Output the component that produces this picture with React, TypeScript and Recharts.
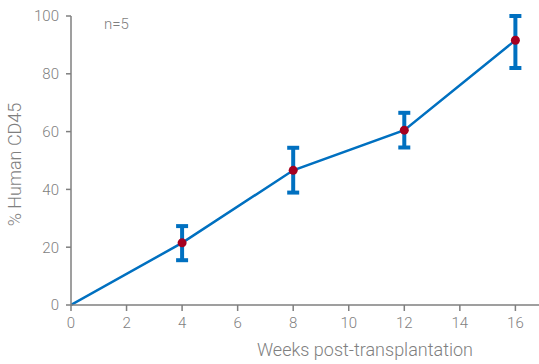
import React from "react";
import { LineChart, Line, XAxis, YAxis, ErrorBar } from "recharts";

const weeks = [0, 4, 8, 12, 16];
const cd45 = [0, 21.5, 46.6, 60.5, 91.6];
const errLow = [null, 6, 7.7, 6, 9.6];
const errHigh = [null, 5.8, 7.8, 6, 8.4];
const xTicks = [0, 2, 4, 6, 8, 10, 12, 14, 16];
const yTicks = [0, 20, 40, 60, 80, 100];

const data = weeks.map((w, i) => ({
  week: w,
  value: cd45[i],
  err: errLow[i] == null ? undefined : [errLow[i], errHigh[i]],
}));

const grey = "#7f7f7f";
const font = "Roboto, 'Liberation Sans', sans-serif";

const Dot = (props: any) => {
  const { cx, cy, index } = props;
  if (index === 0) return null;
  return <circle key={index} cx={cx} cy={cy} r={4.5} fill="#a50021" />;
};

const App: React.FC = () => {
  return (
    <div style={{ position: "absolute", left: 0, top: 0, fontFamily: font }}>
      <LineChart width={539} height={364} data={data} margin={{ top: 16, right: 0, left: 0, bottom: 0 }}>
        <XAxis
          dataKey="week"
          type="number"
          domain={[0, 16.85]}
          allowDataOverflow
          ticks={xTicks}
          height={59}
          stroke={grey}
          strokeWidth={1.5}
          tickSize={6}
          tick={{ fill: grey, fontSize: 15, fontWeight: 300, fontFamily: font, dy: 4 }}
          label={{ value: "Weeks post-transplantation", position: "insideBottom", dx: 60, dy: -3, fill: grey, fontSize: 18, fontWeight: 300, fontFamily: font }}
        />
        <YAxis
          type="number"
          domain={[0, 100]}
          ticks={yTicks}
          width={71}
          stroke={grey}
          strokeWidth={1.5}
          tickSize={5}
          tick={{ fill: grey, fontSize: 15, fontWeight: 300, fontFamily: font, dx: -5 }}
          label={{ value: "% Human CD45", angle: -90, position: "insideLeft", dx: 10, dy: 4, fill: grey, fontSize: 18, fontWeight: 300, fontFamily: font, style: { textAnchor: "middle" } }}
        />
        <text x={104} y={29} fill={grey} fontSize={15} fontWeight={300} fontFamily={font}>n=5</text>
        <Line
          dataKey="value"
          stroke="#0070c0"
          strokeWidth={2.5}
          dot={<Dot />}
          activeDot={false}
          isAnimationActive={false}
        >
          <ErrorBar dataKey="err" width={6} stroke="#0070c0" strokeWidth={4} direction="y" />
        </Line>
      </LineChart>
    </div>
  );
};

export default App;
